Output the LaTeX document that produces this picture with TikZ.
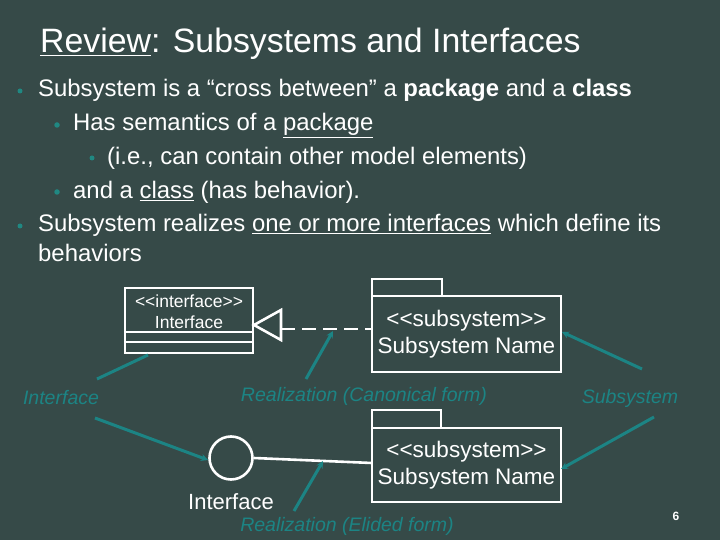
\documentclass[tikz,border=0pt]{standalone}
\usepackage{fontspec}
\setmainfont{Liberation Sans}[Ligatures=TeXOff]
\usetikzlibrary{arrows.meta}
\definecolor{bg}{RGB}{54,74,72}
\definecolor{tealnote}{RGB}{28,132,132}
\definecolor{bullet}{RGB}{32,136,130}
\newcommand{\stereo}[1]{<\kern0pt<#1>\kern0pt>}
\tikzset{
  body/.style={anchor=base west, text=white, inner sep=0pt, font=\fontsize{23.9}{28}\selectfont},
  uml/.style={draw=white, line width=2.6pt},
  umltext/.style={text=white, inner sep=0pt},
  note/.style={text=tealnote, inner sep=0pt, font=\fontsize{19.5}{24}\selectfont\itshape},
  noteline/.style={draw=tealnote, line width=3pt},
  notearrow/.style={noteline, -{Stealth[length=7pt,width=7pt]}},
  dot/.style={circle, fill=bullet, inner sep=0pt, minimum size=5pt}
}
\begin{document}
\begin{tikzpicture}[x=1pt,y=-1pt]
\fill[bg] (0,0) rectangle (720,540);
\useasboundingbox (0,0) rectangle (720,540);
% title
\node[anchor=base west, text=white, inner sep=0pt, font=\fontsize{33.8}{40}\selectfont] (title) at (40,53) {\underline{Review}: Subsystems and Interfaces};
% bullets
\node[dot] (b1) at (20,91) {};
\node[dot, minimum size=5.5pt] (b2) at (57,125) {};
\node[dot] (b3) at (92,158) {};
\node[dot, minimum size=5.5pt] (b4) at (57,192) {};
\node[dot] (b5) at (20,226) {};
\node[body] (l1) at (38,97) {Subsystem is a “cross between” a \textbf{package} and a \textbf{class}};
\node[body] (l2) at (73,131) {Has semantics of a \underline{package}};
\node[body] (l3) at (107,165) {(i.e., can contain other model elements)};
\node[body] (l4) at (73,199) {and a \underline{class} (has behavior).};
\node[body] (l5) at (38,232) {Subsystem realizes \underline{one or more interfaces} which define its};
\node[body] (l6) at (38,261) {behaviors};
% interface class box
\node[uml, minimum width=128pt, minimum height=65pt, inner sep=0pt] (ibox) at (189,320.5) {};
\draw[uml] (125,332) -- (253,332);
\draw[uml] (125,342) -- (253,342);
\node[umltext, font=\fontsize{17.5}{20}\selectfont] (istereo) at (189,301) {\stereo{interface}};
\node[umltext, font=\fontsize{17.5}{20}\selectfont] (iname) at (189,322) {Interface};
% realization triangle + dashed line
\coordinate (tip) at (254,325);
\coordinate (tb1) at (281,310);
\coordinate (tb2) at (281,340);
\draw[uml, line join=miter] (tip) -- (tb1) -- (tb2) -- cycle;
% subsystem package 1
\node[uml, minimum width=70pt, minimum height=17pt, inner sep=0pt] (tab1) at (407,287.5) {};
\node[uml, minimum width=189pt, minimum height=76pt, inner sep=0pt, align=center, text=white, font=\fontsize{22.5}{26}\selectfont] (pkg1) at (466.5,334) {\stereo{subsystem}\\[1pt]Subsystem Name};
\coordinate (dstart) at (281,329);
\draw[uml, dash pattern=on 14pt off 7pt] (dstart) -- (pkg1.west |- dstart);
% subsystem package 2
\node[uml, minimum width=69pt, minimum height=18pt, inner sep=0pt] (tab2) at (406.5,419) {};
\node[uml, minimum width=189pt, minimum height=74pt, inner sep=0pt, align=center, text=white, font=\fontsize{22.5}{26}\selectfont] (pkg2) at (466.5,465) {\stereo{subsystem}\\[1pt]Subsystem Name};
% lollipop interface
\node[uml, circle, minimum size=43pt, inner sep=0pt] (circ) at (231,458) {};
\coordinate (c2) at (372,463);
\draw[uml] (circ.east) -- (c2);
\node[umltext, font=\fontsize{22}{26}\selectfont] (cname) at (231,502) {Interface};
% teal notes
\node[note] (n1) at (61,398) {Interface};
\node[note] (n2) at (364,396) {Realization (Canonical form)};
\node[note] (n3) at (630,398) {Subsystem};
\node[note] (n4) at (347,526) {Realization (Elided form)};
\coordinate (a1s) at (97,379);   \coordinate (a1e) at (148,355);
\coordinate (a2s) at (306,379);  \coordinate (a2e) at (333,331);
\coordinate (a3s) at (642,369);  \coordinate (a3e) at (562,332);
\coordinate (a4s) at (95,418);   \coordinate (a4e) at (208,460);
\coordinate (a5s) at (654,417);  \coordinate (a5e) at (561,469);
\coordinate (a6s) at (294,511);  \coordinate (a6e) at (323,461);
\draw[noteline] (a1s) -- (a1e);
\draw[notearrow] (a2s) -- (a2e);
\draw[notearrow] (a3s) -- (a3e);
\draw[notearrow] (a4s) -- (a4e);
\draw[notearrow] (a5s) -- (a5e);
\draw[notearrow] (a6s) -- (a6e);
% page number
\node[umltext, font=\fontsize{12}{14}\selectfont\bfseries] (pnum) at (676,516) {6};
\end{tikzpicture}
\end{document}
